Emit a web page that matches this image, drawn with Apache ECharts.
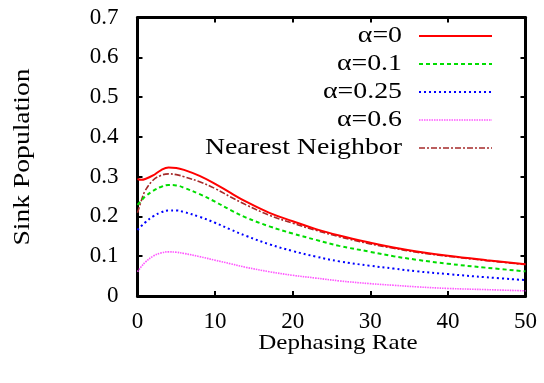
<!DOCTYPE html>
<html>
<head>
<meta charset="utf-8">
<script src="https://cdn.jsdelivr.net/npm/echarts@6/dist/echarts.min.js"></script>
<style>
  html, body { margin: 0; padding: 0; background: #fff; }
  #chart { width: 544px; height: 383px; }
</style>
</head>
<body>
<div id="chart"></div>
<script>
// Dephasing rate samples (x axis)
const rates = [0, 0.5, 1, 2, 3, 4, 5, 6, 8, 10, 12, 14, 17, 20, 23, 26, 30, 33, 36, 40, 45, 50];

// Sink population for each disorder strength alpha
const alpha0   = [0.294, 0.292, 0.294, 0.303, 0.316, 0.323, 0.322, 0.317, 0.302, 0.282, 0.259, 0.237, 0.209, 0.188, 0.168, 0.152, 0.134, 0.122, 0.112, 0.101, 0.090, 0.080];
const alpha01  = [0.229, 0.240, 0.250, 0.264, 0.274, 0.279, 0.278, 0.272, 0.256, 0.237, 0.216, 0.197, 0.175, 0.157, 0.141, 0.126, 0.111, 0.100, 0.091, 0.081, 0.071, 0.062];
const alpha025 = [0.166, 0.176, 0.185, 0.200, 0.210, 0.215, 0.215, 0.211, 0.199, 0.184, 0.167, 0.151, 0.130, 0.113, 0.099, 0.087, 0.076, 0.069, 0.062, 0.055, 0.047, 0.040];
const alpha06  = [0.061, 0.074, 0.085, 0.100, 0.108, 0.111, 0.110, 0.107, 0.099, 0.090, 0.081, 0.072, 0.061, 0.052, 0.045, 0.038, 0.031, 0.027, 0.023, 0.019, 0.016, 0.013];
const nearest  = [0.209, 0.240, 0.265, 0.291, 0.303, 0.307, 0.305, 0.300, 0.287, 0.270, 0.249, 0.229, 0.203, 0.183, 0.165, 0.149, 0.131, 0.120, 0.110, 0.100, 0.089, 0.079];

// Axis ranges and labels
const xTicks = { min: 0, max: 50, step: 10 };
const yTicks = { min: 0, max: 0.7, step: 0.1 };
const xTitle = 'Dephasing Rate';
const yTitle = 'Sink Population';

// Series definitions: name, values, colour, dash pattern
const curves = [
  { name: 'Nearest Neighbor', data: nearest,  color: '#a52a2a', dash: [6, 2, 2, 2], width: 1.6 },
  { name: 'α=0.6',            data: alpha06,  color: '#ff55ff', dash: [1.5, 1],     width: 1.6 },
  { name: 'α=0.25',           data: alpha025, color: '#0000ff', dash: [2, 3],       width: 2 },
  { name: 'α=0.1',            data: alpha01,  color: '#00dd00', dash: [4, 3],       width: 2 },
  { name: 'α=0',              data: alpha0,   color: '#ff0000', dash: null,         width: 2 }
];
const legendOrder = ['α=0', 'α=0.1', 'α=0.25', 'α=0.6', 'Nearest Neighbor'];

const serif = '"Liberation Serif", "Times New Roman", serif';
const chart = echarts.init(document.getElementById('chart'), null, { renderer: 'canvas' });

const frameAxis = {
  axisLine: { show: true, onZero: false, lineStyle: { color: '#000', width: 3 } },
  axisTick: { show: true, inside: true, length: 5, lineStyle: { color: '#000', width: 2 } },
  splitLine: { show: false }
};

// Legend built as a graphic group: right-aligned names with line samples
const legendGraphics = [];
legendOrder.forEach((name, i) => {
  const c = curves.find(s => s.name === name);
  const y = 36 + i * 28;
  legendGraphics.push({
    type: 'text', x: 402, y: y, scaleX: 1.16,
    style: { text: name, font: '24px ' + serif, fill: '#000', align: 'right', verticalAlign: 'middle' }
  });
  legendGraphics.push({
    type: 'line', shape: { x1: 419, y1: y, x2: 492, y2: y },
    style: { stroke: c.color, lineWidth: c.width, lineDash: c.dash || null }
  });
});

chart.setOption({
  animation: false,
  backgroundColor: '#fff',
  grid: { left: 137.5, top: 17.5, right: 18.5, bottom: 87, containLabel: false },
  xAxis: [
    Object.assign({
      type: 'value', min: xTicks.min, max: xTicks.max, interval: xTicks.step, position: 'bottom',
      axisLabel: { color: '#000', fontFamily: serif, fontSize: 23, margin: 14 }
    }, frameAxis),
    Object.assign({
      type: 'value', min: xTicks.min, max: xTicks.max, interval: xTicks.step, position: 'top',
      axisLabel: { show: false }
    }, frameAxis)
  ],
  yAxis: [
    Object.assign({
      type: 'value', min: yTicks.min, max: yTicks.max, interval: yTicks.step, position: 'left',
      axisLabel: {
        color: '#000', fontFamily: serif, fontSize: 23, margin: 19,
        formatter: v => (v === 0 ? '0' : v.toFixed(1))
      }
    }, frameAxis),
    Object.assign({
      type: 'value', min: yTicks.min, max: yTicks.max, interval: yTicks.step, position: 'right',
      axisLabel: { show: false }
    }, frameAxis)
  ],
  graphic: [
    {
      type: 'text', x: 338, y: 343, scaleX: 1.14,
      style: { text: xTitle, font: '22px ' + serif, fill: '#000', align: 'center', verticalAlign: 'middle' }
    },
    {
      type: 'text', x: 23, y: 157, rotation: Math.PI / 2, scaleX: 1.2,
      style: { text: yTitle, font: '23px ' + serif, fill: '#000', align: 'center', verticalAlign: 'middle' }
    }
  ].concat(legendGraphics),
  series: curves.map(c => ({
    name: c.name,
    type: 'line',
    smooth: 0.4,
    showSymbol: false,
    symbol: 'none',
    data: rates.map((x, i) => [x, c.data[i]]),
    lineStyle: { color: c.color, width: c.width, type: c.dash || 'solid' },
    itemStyle: { color: c.color }
  }))
});
</script>
</body>
</html>
